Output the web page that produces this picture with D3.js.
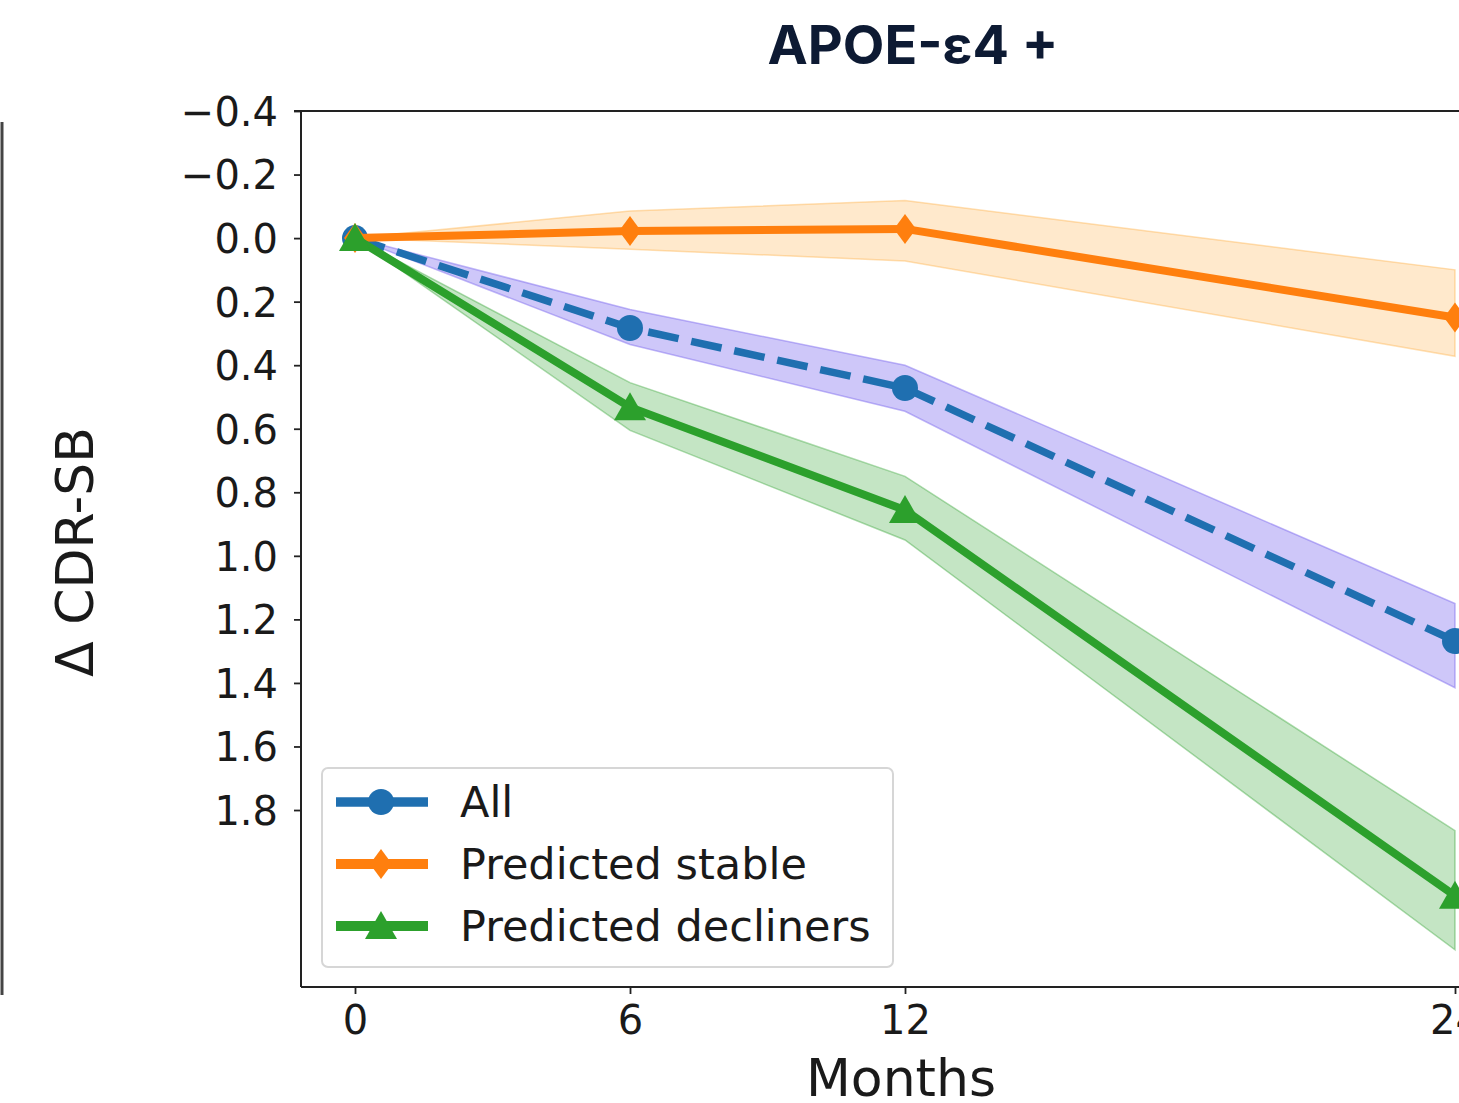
<!DOCTYPE html>
<html>
<head>
<meta charset="utf-8">
<script src="https://cdn.jsdelivr.net/npm/d3@7"></script>
<style>
  body { margin: 0; background: #fff; }
  svg { display: block; }
  .tick text { font-family: "DejaVu Sans", sans-serif; fill: #1a1a1a; }
</style>
</head>
<body>
<div id="container"></div>
<script>
const widthSVG = 1459,
    heightSVG = 1103;

// x values (months) and y ticks
const months = [0, 6, 12, 24];
const xTicks = [0, 6, 12, 24];
const yTicks = [-0.4, -0.2, 0.0, 0.2, 0.4, 0.6, 0.8, 1.0, 1.2, 1.4, 1.6, 1.8];
const seriesNames = ["All", "Predicted stable", "Predicted decliners"];

// change in CDR-SB
const allMean = [0, 0.283, 0.472, 1.268];
const allLow = [0, 0.225, 0.400, 1.150];
const allHigh = [0, 0.335, 0.545, 1.415];

const stableMean = [0, -0.022, -0.029, 0.250];
const stableLow = [0, -0.085, -0.118, 0.100];
const stableHigh = [0, 0.035, 0.072, 0.372];

const declMean = [0, 0.532, 0.856, 2.070];
const declLow = [0, 0.455, 0.750, 1.865];
const declHigh = [0, 0.605, 0.950, 2.240];

// marker shapes (relative to centre)
const circleMark = "M13,0A13,13 0 1,1 -13,0A13,13 0 1,1 13,0Z";
const diamondMark = "M0,-15L11,0L0,15L-11,0Z";
const triangleMark = "M0,-15L16,13L-16,13Z";

const series = [
    {name: seriesNames[0], mean: allMean, lo: allLow, hi: allHigh, color: "#1f6fb0",
        band: "#7b68ee", bandOpacity: 0.37, dash: "31,13", mark: circleMark, width: 7.5},
    {name: seriesNames[1], mean: stableMean, lo: stableLow, hi: stableHigh, color: "#ff7f0e",
        band: "#ffa528", bandOpacity: 0.24, dash: null, mark: diamondMark, width: 8},
    {name: seriesNames[2], mean: declMean, lo: declLow, hi: declHigh, color: "#2ca02c",
        band: "#2ca02c", bandOpacity: 0.28, dash: null, mark: triangleMark, width: 8}
];

const xScale = d3.scaleLinear()
    .domain([-1.2, 25.2])
    .range([300, 1510]);

const yScale = d3.scaleLinear()
    .domain([-0.4, 2.357])
    .range([111, 987]);

const svg = d3.select('#container')
    .append('svg')
    .attr('width', widthSVG)
    .attr('height', heightSVG);

// border of the neighbouring panel
svg.append('line')
    .attr('x1', 2).attr('x2', 2)
    .attr('y1', 122).attr('y2', 995)
    .attr('stroke', '#444')
    .attr('stroke-width', 3);

// title
svg.append('text')
    .attr('x', 913)
    .attr('y', 64)
    .attr('text-anchor', 'middle')
    .style('font-family', 'Inter, "Open Sans", sans-serif')
    .style('font-weight', 700)
    .style('font-size', '54px')
    .style('fill', '#0d1a33')
    .text('APOE-ε4 +');

const plot = svg.append('g');

// confidence bands
const area = d3.area()
    .x((d, i) => xScale(months[i]))
    .y0(d => yScale(d[0]))
    .y1(d => yScale(d[1]));

series.forEach(s => {
    plot.append('path')
        .datum(s.lo.map((v, i) => [v, s.hi[i]]))
        .attr('d', area)
        .attr('fill', s.band)
        .attr('fill-opacity', s.bandOpacity)
        .attr('stroke', s.band)
        .attr('stroke-opacity', s.bandOpacity + 0.1)
        .attr('stroke-width', 1.5);
});

const line = d3.line()
    .x((d, i) => xScale(months[i]))
    .y(d => yScale(d));

series.forEach(s => {
    plot.append('path')
        .datum(s.mean)
        .attr('d', line)
        .attr('fill', 'none')
        .attr('stroke', s.color)
        .attr('stroke-width', s.width)
        .attr('stroke-dasharray', s.dash);
    plot.selectAll(null)
        .data(s.mean)
        .enter()
        .append('path')
        .attr('d', s.mark)
        .attr('transform', (d, i) => `translate(${xScale(months[i])},${yScale(d)})`)
        .attr('fill', s.color);
});

// axes
const yAxis = svg.append('g')
    .attr('transform', 'translate(301,0)')
    .call(d3.axisLeft(yScale)
        .tickValues(yTicks)
        .tickFormat(d => d3.format('.1f')(d).replace('-', '−'))
        .tickSize(7)
        .tickPadding(16));
yAxis.selectAll('.tick text').style('font-size', '40px').attr('dy', '0.36em');

const xAxis = svg.append('g')
    .attr('transform', 'translate(0,987)')
    .call(d3.axisBottom(xScale)
        .tickValues(xTicks)
        .tickFormat(d3.format('d'))
        .tickSize(7)
        .tickPadding(12));
xAxis.selectAll('.tick text').style('font-size', '40px');

svg.selectAll('.domain').attr('stroke', '#222').attr('stroke-width', 2);
svg.selectAll('.tick line').attr('stroke', '#222').attr('stroke-width', 1.8);
yAxis.select('.domain').attr('d', 'M-7,111H0V987');
xAxis.select('.domain').attr('d', 'M301,0H1459');

// top spine
svg.append('line')
    .attr('x1', 301).attr('x2', 1459)
    .attr('y1', 111).attr('y2', 111)
    .attr('stroke', '#222')
    .attr('stroke-width', 2);

// axis labels
svg.append('text')
    .attr('x', 901)
    .attr('y', 1096)
    .attr('text-anchor', 'middle')
    .style('font-family', '"DejaVu Sans", sans-serif')
    .style('font-size', '52px')
    .style('fill', '#1a1a1a')
    .text('Months');

svg.append('text')
    .attr('transform', 'translate(93,552) rotate(-90)')
    .attr('text-anchor', 'middle')
    .style('font-family', '"DejaVu Sans", sans-serif')
    .style('font-size', '52px')
    .style('fill', '#1a1a1a')
    .text('Δ CDR-SB');

// legend
const legend = svg.append('g').attr('id', 'legend');
legend.append('rect')
    .attr('x', 322).attr('y', 768)
    .attr('width', 571).attr('height', 199)
    .attr('rx', 6)
    .attr('fill', '#fff')
    .attr('fill-opacity', 0.85)
    .attr('stroke', '#d6d6d6')
    .attr('stroke-width', 2);

const legendY = d3.scalePoint()
    .domain(seriesNames)
    .range([802, 926]);

series.forEach(s => {
    const y = legendY(s.name);
    legend.append('line')
        .attr('x1', 336).attr('x2', 428)
        .attr('y1', y).attr('y2', y)
        .attr('stroke', s.color)
        .attr('stroke-width', s.width + 2);
    legend.append('path')
        .attr('d', s.mark)
        .attr('transform', `translate(381,${y})`)
        .attr('fill', s.color);
    legend.append('text')
        .attr('x', 460)
        .attr('y', y)
        .attr('dy', '0.36em')
        .style('font-family', '"DejaVu Sans", sans-serif')
        .style('font-size', '43px')
        .style('fill', '#1a1a1a')
        .text(s.name);
});
</script>
</body>
</html>
